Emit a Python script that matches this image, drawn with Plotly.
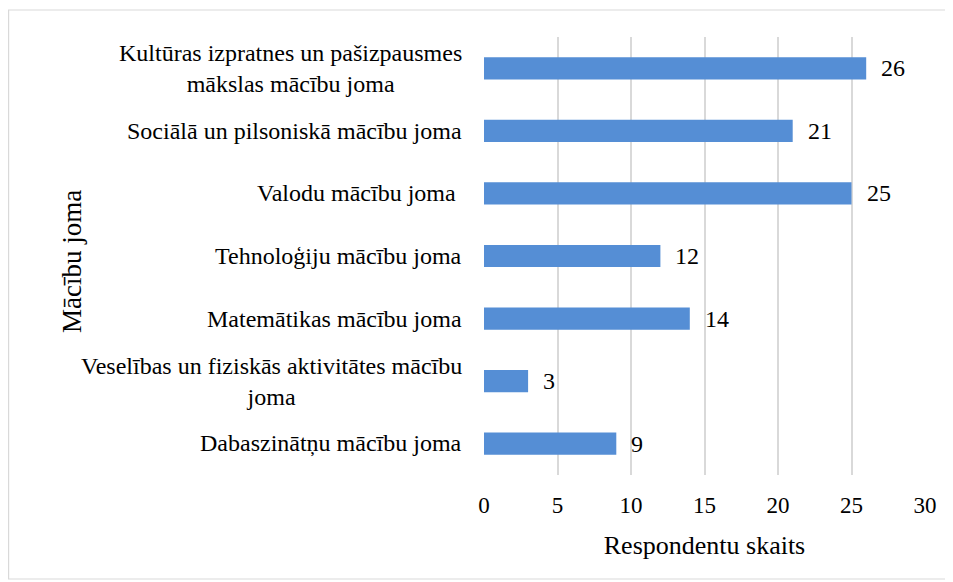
import plotly.graph_objects as go

# Dati (no augšas uz leju)
jomas = [
    "Kultūras izpratnes un pašizpausmes<br>mākslas mācību joma",
    "Sociālā un pilsoniskā mācību joma",
    "Valodu mācību joma ",
    "Tehnoloģiju mācību joma",
    "Matemātikas mācību joma",
    "Veselības un fiziskās aktivitātes mācību<br>joma",
    "Dabaszinātņu mācību joma",
]
skaits = [26, 21, 25, 12, 14, 3, 9]
x_ticks = [0, 5, 10, 15, 20, 25, 30]

FONT = "Liberation Serif, Times New Roman, serif"
# lapai ir 8px body atkāpe, tāpēc attēls ir 945x574
W, H = 945, 574
L, R, T, B = 476, 28, 29, 107
pw, ph = W - L - R, H - T - B


def px_x(p):
    return (p - L) / pw


def px_y(p):
    return (H - B - p) / ph


fig = go.Figure(go.Bar(
    x=skaits, y=jomas, orientation="h",
    marker=dict(color="#558ED5", line=dict(width=0)),
    width=0.355, hoverinfo="skip",
))

# kategoriju nosaukumi (centrēti vairākrindu teksti)
for j in jomas:
    fig.add_annotation(x=0, xref="paper", y=j, yref="y", text=j, showarrow=False,
                       xanchor="right", align="center", xshift=-20,
                       font=dict(family=FONT, size=24, color="#000000"))

# vērtību etiķetes
for j, v in zip(jomas, skaits):
    fig.add_annotation(x=v, y=j, text=str(v), showarrow=False, xanchor="left",
                       xshift=13, font=dict(family=FONT, size=24, color="#000000"))

# y ass nosaukums
fig.add_annotation(x=px_x(47), xref="paper", y=px_y(254), yref="paper",
                   text="Mācību joma", textangle=-90, showarrow=False,
                   font=dict(family=FONT, size=27, color="#000000"))

# rāmis ap diagrammu
fig.add_shape(type="rect", xref="paper", yref="paper",
              x0=px_x(0.6), x1=px_x(960), y0=px_y(571), y1=px_y(2),
              line=dict(color="#d9d9d9", width=1.2), layer="below")

fig.update_layout(
    width=W, height=H,
    margin=dict(l=L, r=R, t=T, b=B),
    paper_bgcolor="white", plot_bgcolor="white",
    showlegend=False,
    font=dict(family=FONT, color="#000000"),
    xaxis=dict(
        range=[0, 30], tickvals=x_ticks, showgrid=True, gridcolor="#d9d9d9", gridwidth=1.5,
        zeroline=False, showline=False, ticks="", ticklabelstandoff=14,
        tickfont=dict(family=FONT, size=23, color="#000000"),
        title=dict(text="Respondentu skaits", standoff=18,
                   font=dict(family=FONT, size=26, color="#000000")),
    ),
    yaxis=dict(
        categoryorder="array", categoryarray=jomas, autorange="reversed",
        showticklabels=False, showgrid=False, zeroline=False, showline=False, ticks="",
    ),
)

fig.write_html("out.html")
